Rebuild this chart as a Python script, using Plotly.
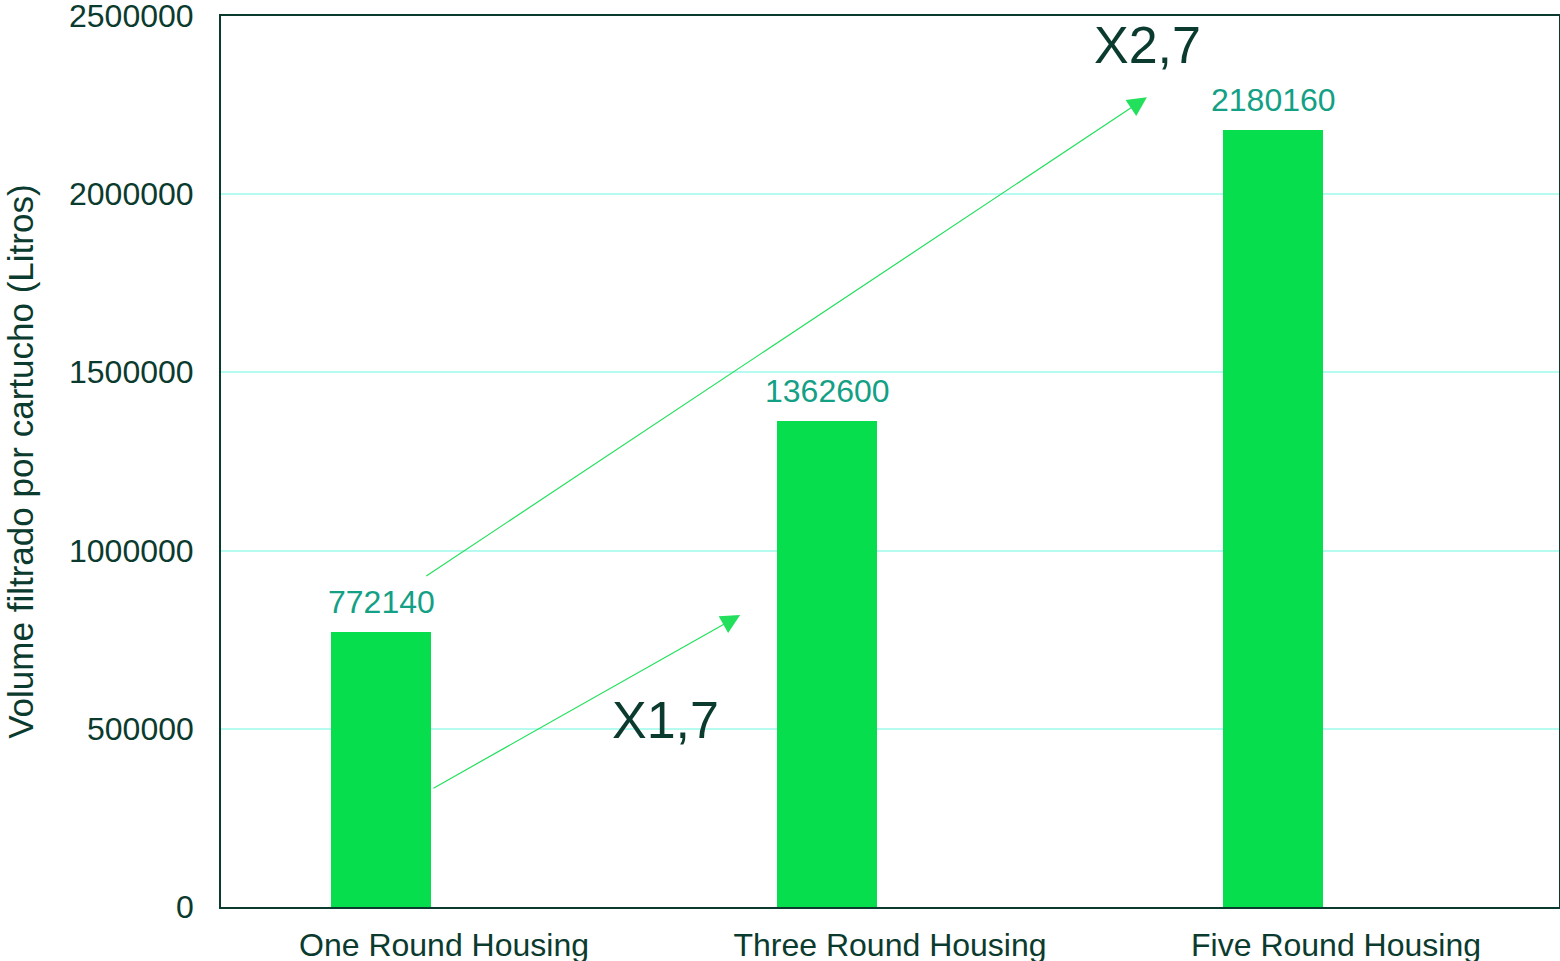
import plotly.graph_objects as go

categories = ["One Round Housing", "Three Round Housing", "Five Round Housing"]
values = [772140, 1362600, 2180160]
y_ticks = [0, 500000, 1000000, 1500000, 2000000, 2500000]
ratio_labels = ["X1,7", "X2,7"]

DARK = "#0B3B2E"
BAR = "#07DE4E"
LABEL = "#13A085"
GRID = "#B6FBEF"
ARROW = "#22E05C"
FONT = "Liberation Sans, Arial, sans-serif"

xpos = list(range(len(categories)))
bar_w = 0.224
bar_off = -0.253

fig = go.Figure()
fig.add_trace(go.Bar(
    x=xpos, y=values, width=bar_w, offset=bar_off,
    marker=dict(color=BAR, line=dict(width=0)),
    showlegend=False, hoverinfo="skip",
))

annotations = []
for xi, v in zip(xpos, values):
    annotations.append(dict(
        x=xi + bar_off + bar_w / 2, y=v, xref="x", yref="y",
        text=str(v), showarrow=False, yanchor="bottom", yshift=10,
        font=dict(family=FONT, size=32, color=LABEL),
    ))

# y tick labels (drawn as annotations so the top one is not dropped)
for t in y_ticks:
    annotations.append(dict(
        x=-0.0187, y=t, xref="paper", yref="y", text=str(t),
        showarrow=False, xanchor="right", yanchor="middle",
        font=dict(family=FONT, size=32, color=DARK),
    ))

# arrows (ratio indicators)
annotations.append(dict(
    x=0.664, y=819000, ax=-0.027, ay=331000,
    xref="x", yref="y", axref="x", ayref="y",
    text="", showarrow=True, arrowhead=2, arrowsize=3.2, arrowwidth=1.2,
    arrowcolor=ARROW,
))
annotations.append(dict(
    x=1.576, y=2272000, ax=-0.043, ay=926000,
    xref="x", yref="y", axref="x", ayref="y",
    text="", showarrow=True, arrowhead=2, arrowsize=3.2, arrowwidth=1.2,
    arrowcolor=ARROW,
))
annotations.append(dict(
    x=0.497, y=525000, xref="x", yref="y", text=ratio_labels[0],
    showarrow=False, font=dict(family=FONT, size=52, color=DARK),
))
annotations.append(dict(
    x=1.578, y=2418000, xref="x", yref="y", text=ratio_labels[1],
    showarrow=False, font=dict(family=FONT, size=52, color=DARK),
))
annotations.append(dict(
    x=-0.150, y=0.5, xref="paper", yref="paper",
    text="Volume filtrado por cartucho (Litros)", textangle=-90,
    showarrow=False, xanchor="center", yanchor="middle",
    font=dict(family=FONT, size=35, color=DARK),
))

fig.update_layout(
    width=1560, height=961,
    margin=dict(l=221, r=1, t=16, b=54, autoexpand=False),
    paper_bgcolor="white", plot_bgcolor="white",
    font=dict(family=FONT, size=32, color=DARK),
    annotations=annotations,
    bargap=0,
)
fig.update_xaxes(
    range=[-0.5, 2.5], tickvals=xpos, ticktext=categories,
    showline=True, mirror=True, linecolor=DARK, linewidth=2,
    showgrid=False, zeroline=False, ticks="",
    tickfont=dict(family=FONT, size=32, color=DARK),
    ticklabelstandoff=9, automargin=False,
)
fig.update_yaxes(
    range=[0, 2500000], tickvals=y_ticks, showticklabels=False,
    showline=True, mirror=True, linecolor=DARK, linewidth=2,
    showgrid=True, gridcolor=GRID, gridwidth=1.5, zeroline=False, ticks="",
    automargin=False,
)

fig.write_html("out.html")
